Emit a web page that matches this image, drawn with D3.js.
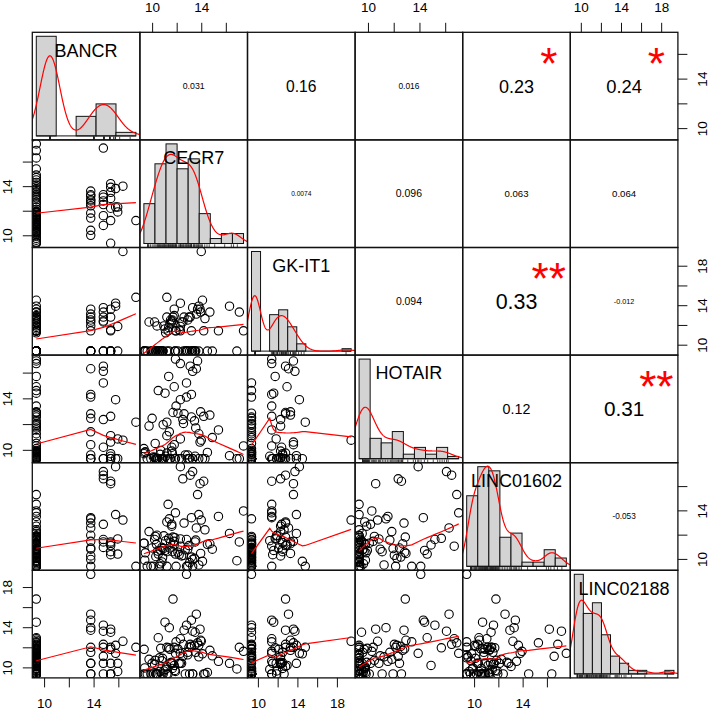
<!DOCTYPE html>
<html><head><meta charset="utf-8">
<script src="https://cdn.jsdelivr.net/npm/d3@7"></script>
<style>body{margin:0;background:#fff}svg{display:block}</style>
</head><body><svg id="c" width="710" height="710"></svg>
<script>
// ---------------- DATA ----------------
const varNames = ["BANCR", "CECR7", "GK-IT1", "HOTAIR", "LINC01602", "LINC02188"];

const BANCR = [
9.37,9.37,9.37,9.37,9.37,9.37,9.37,9.37,9.37,9.37,
9.37,9.37,9.37,9.37,9.37,9.37,9.37,9.37,9.37,9.37,
9.37,9.37,9.37,9.37,9.37,9.37,9.37,9.37,9.37,9.37,
9.37,9.37,9.37,9.37,9.37,9.37,9.37,9.37,9.37,9.37,
9.37,9.37,9.37,9.37,9.37,9.37,9.37,9.37,9.37,9.37,
9.37,9.37,9.37,9.37,9.37,9.37,
13.77,13.77,13.77,13.77,13.77,13.77,13.77,13.77,13.77,13.77,13.77,
14.79,14.79,14.79,14.79,14.79,14.79,14.79,
15.38,15.38,15.38,15.38,15.38,15.38,15.38,
15.78,15.78,15.95,15.95,16.37,17.42];

const CECR7 = [
11.3,13.45,10.2,9.6,12.3,14.5,10.85,11.7,13.8,10.45,
16.3,11.05,12.9,9.33,11.5,13.2,10.65,14.1,11.9,10.3,
13.55,11.2,9.9,12.55,10.95,17.44,11.6,13.05,10.5,14.7,
11.85,10.1,15.4,11.45,9.45,13.7,10.8,12.1,11.1,14.3,
10.25,11.95,13.3,10.7,9.75,16.9,11.35,12.7,10.6,13.95,
11.65,10.35,14.9,11.8,9.4,10.9,
13.6,13.2,12.8,12.6,12.4,11.4,10.4,10.0,12.9,11.8,13.3,
13.3,13.1,12.8,12.5,17.1,11.6,10.8,
14.2,13.9,13.5,13.0,12.2,11.2,9.35,
12.3,13.8,12.3,11.9,14.0,11.2];

const GK_IT1 = [
11.4,9.35,12.3,9.35,11.4,9.35,9.35,12.8,9.35,9.35,
13.9,11.6,9.35,9.35,12.5,9.35,9.35,14.5,11.4,9.35,
9.35,12.8,9.35,9.35,11.9,11.4,12.3,9.35,9.35,13.3,
9.35,9.35,11.4,12.1,9.35,13.6,9.35,9.35,11.2,12.65,
9.35,11.4,9.35,9.35,12.3,9.35,11.75,9.35,9.35,13.3,
12.5,9.35,9.35,12.95,9.35,9.35,
13.1,11.4,9.35,12.8,12.3,9.35,11.9,9.35,12.5,13.6,9.35,
13.75,12.8,9.35,12.3,13.3,12.4,9.35,
11.4,13.6,9.35,12.8,11.5,9.35,9.35,
14.2,13.9,11.85,9.35,19.44,14.8];

const HOTAIR = [
9.31,12.25,9.4,9.31,16.7,9.8,9.31,12.9,11.25,9.31,
9.55,14.4,9.31,10.1,9.31,12.55,9.65,9.31,17.05,9.31,
11.7,9.75,9.31,12.05,9.31,10.3,9.9,9.31,14.6,12.7,
9.31,9.45,11.55,9.31,9.85,16.9,9.31,12.85,9.5,9.31,
10.5,13.4,9.31,9.95,11.85,9.31,15.7,9.6,9.31,12.95,
9.7,9.31,10.95,14.9,9.8,11.95,
16.3,14.3,14.1,12.8,9.31,11.4,9.31,12.45,9.6,10.4,9.31,
16.1,16.5,15.2,12.35,9.31,10.2,9.31,
12.6,10.6,9.5,9.31,9.31,11.1,9.7,
13.9,9.31,10.85,9.31,10.75,12.15];

const LINC01602 = [
14.5,10.05,11.6,9.39,11.05,11.2,10.1,11.8,9.5,10.65,
12.1,10.7,9.39,11.3,11.35,10.15,9.6,9.8,13.8,10.2,
11.55,13.05,9.39,10.3,11.9,13.95,12.7,9.7,10.4,11.25,
11.75,9.39,13.5,10.9,10.5,15.3,9.75,10.55,11.5,12.4,
11.85,9.39,9.39,10.7,12.25,9.85,11.7,10.75,9.39,10.45,
10.6,11.2,10.8,11.15,9.9,10.85,
12.55,13.4,9.39,12.95,10.25,13.3,11.95,10.9,10.8,11.45,9.95,
17.2,16.9,11.6,16.6,11.4,12.85,10.95,
16.4,16.2,11.4,11.1,10.35,10.6,11.3,
17.6,13.65,11.65,10.4,13.2,9.39];

const LINC02188 = [
9.35,12.2,10.3,9.35,12.85,9.5,10.9,16.8,11.05,9.35,
10.4,14.5,11.25,9.35,10.45,12.1,9.6,11.35,11.4,9.35,
11.5,10.1,9.35,12.3,9.65,11.6,10.5,9.35,12.95,11.7,
9.7,9.35,10.6,11.8,9.35,12.45,10.65,11.85,9.8,9.35,
10.7,12.55,9.35,11.9,10.8,9.85,11.95,9.35,10.95,12.7,
9.9,9.35,11.15,10.2,9.95,9.35,
15.3,14.7,19.27,13.7,10.4,13.95,9.35,10.4,11.5,12.0,9.35,
13.6,12.3,14.2,11.1,12.0,10.4,9.35,
9.35,13.8,13.5,12.0,10.4,9.35,11.8,
11.4,12.2,10.4,9.6,12.6,12.0];

// histogram breaks (as drawn)
const breaksBANCR = [8, 10, 12, 14, 16, 18];
const breaksCECR7 = [9, 10, 11, 12, 13, 14, 15, 16, 17, 18];
const breaksGK = [9, 10, 11, 12, 13, 14, 15, 16, 17, 18, 19, 20];
const breaksHOTAIR = [9, 10, 11, 12, 13, 14, 15, 16, 17, 18];
const breaksL1602 = [9, 10, 11, 12, 13, 14, 15, 16, 17, 18];
const breaksL2188 = [9, 10, 11, 12, 13, 14, 15, 16, 17, 18, 19, 20];

// axis ticks and which of them carry a label
const ticksShort = [10, 12, 14, 16];
const ticksLong = [10, 12, 14, 16, 18];
const labelsShort = [10, 14];
const labelsLong = [10, 14, 18];

// correlation panels (upper triangle)
const corrRow = [0, 0, 0, 0, 0, 1, 1, 1, 1, 2, 2, 2, 3, 3, 4];
const corrCol = [1, 2, 3, 4, 5, 2, 3, 4, 5, 3, 4, 5, 4, 5, 5];
const corrText = ["0.031", "0.16", "0.016", "0.23", "0.24", "0.0074", "0.096", "0.063", "0.064", "0.094", "0.33", "-0.012", "0.12", "0.31", "-0.053"];
const corrStars = ["", "", "", "*", "*", "", "", "", "", "", "**", "", "", "**", ""];

// ---------------- SETUP ----------------
const data = [BANCR, CECR7, GK_IT1, HOTAIR, LINC01602, LINC02188];
const breaks = [breaksBANCR, breaksCECR7, breaksGK, breaksHOTAIR, breaksL1602, breaksL2188];
const ticks = [ticksShort, ticksShort, ticksLong, ticksShort, ticksShort, ticksLong];
const tickLabels = [labelsShort, labelsShort, labelsLong, labelsShort, labelsShort, labelsLong];

const FONT = "'Liberation Sans', Arial, Helvetica, sans-serif";
const L = 32.3, T = 32.3, P = 107.6, NV = 6;
const svg = d3.select("#c");
const ext = ([a, b]) => { const d = (b - a) * 0.04; return [a - d, b + d]; };

const xS = data.map((v, j) => d3.scaleLinear().domain(ext(d3.extent(v))).range([L + j * P, L + (j + 1) * P]));
const yS = data.map((v, i) => d3.scaleLinear().domain(ext(d3.extent(v))).range([T + (i + 1) * P, T + i * P]));

const defs = svg.append("defs");
for (let i = 0; i < NV; i++) for (let j = 0; j < NV; j++) {
  defs.append("clipPath").attr("id", `cp${i}_${j}`).append("rect")
    .attr("x", L + j * P).attr("y", T + i * P).attr("width", P).attr("height", P);
}

// ---------- lowess (R clowess) ----------
function lowess(xIn, yIn, f = 2 / 3, nsteps = 3) {
  const n = xIn.length;
  const order = d3.range(n).sort((a, b) => xIn[a] - xIn[b] || a - b);
  const x = order.map(i => xIn[i]), y = order.map(i => yIn[i]);
  const ys = new Array(n).fill(0), rw = new Array(n).fill(1), res = new Array(n).fill(0), w = new Array(n).fill(0);
  const delta = 0.01 * (x[n - 1] - x[0]);
  const ns = Math.max(2, Math.min(n, Math.floor(f * n + 1e-7)));
  const range = x[n - 1] - x[0];
  function lowest(xs, nleft, nright, userw) {
    const h = Math.max(xs - x[nleft], x[nright] - xs);
    const h9 = 0.999 * h, h1 = 0.001 * h;
    let a = 0, j = nleft;
    while (j < n) {
      w[j] = 0;
      const r = Math.abs(x[j] - xs);
      if (r <= h9) {
        w[j] = r <= h1 ? 1 : Math.pow(1 - Math.pow(r / h, 3), 3);
        if (userw) w[j] *= rw[j];
        a += w[j];
      } else if (x[j] > xs) break;
      j++;
    }
    const nrt = j - 1;
    if (a <= 0) return null;
    for (j = nleft; j <= nrt; j++) w[j] /= a;
    if (h > 0) {
      a = 0;
      for (j = nleft; j <= nrt; j++) a += w[j] * x[j];
      let b = xs - a, c = 0;
      for (j = nleft; j <= nrt; j++) c += w[j] * (x[j] - a) * (x[j] - a);
      if (Math.sqrt(c) > 0.001 * range) {
        b /= c;
        for (j = nleft; j <= nrt; j++) w[j] *= (b * (x[j] - a) + 1);
      }
    }
    let s = 0;
    for (j = nleft; j <= nrt; j++) s += w[j] * y[j];
    return s;
  }
  let iter = 1;
  while (iter <= nsteps + 1) {
    let nleft = 0, nright = ns - 1, last = -1, i = 0;
    for (;;) {
      if (nright < n - 1) {
        const d1 = x[i] - x[nleft], d2 = x[nright + 1] - x[i];
        if (d1 > d2) { nleft++; nright++; continue; }
      }
      const v = lowest(x[i], nleft, nright, iter > 1);
      ys[i] = v === null ? y[i] : v;
      if (last < i - 1) {
        const denom = x[i] - x[last];
        for (let j = last + 1; j < i; j++) {
          const alpha = (x[j] - x[last]) / denom;
          ys[j] = alpha * ys[i] + (1 - alpha) * ys[last];
        }
      }
      last = i;
      const cut = x[last] + delta;
      for (i = last + 1; i < n; i++) {
        if (x[i] > cut) break;
        if (x[i] === x[last]) { ys[i] = ys[last]; last = i; }
      }
      i = Math.max(last + 1, i - 1);
      if (last >= n - 1) break;
    }
    for (let k = 0; k < n; k++) res[k] = y[k] - ys[k];
    let sc = 0; for (let k = 0; k < n; k++) sc += Math.abs(res[k]); sc /= n;
    if (iter > nsteps) break;
    for (let k = 0; k < n; k++) rw[k] = Math.abs(res[k]);
    const srt = rw.slice().sort((a, b) => a - b);
    const m1 = Math.floor(n / 2);
    const cmad = n % 2 === 0 ? 3 * (srt[m1] + srt[m1 - 1]) : 6 * srt[m1];
    if (cmad < 1e-7 * sc) break;
    const c9 = 0.999 * cmad, c1 = 0.001 * cmad;
    for (let k = 0; k < n; k++) {
      const r = Math.abs(res[k]);
      rw[k] = r <= c1 ? 1 : (r <= c9 ? Math.pow(1 - (r / cmad) * (r / cmad), 2) : 0);
    }
    iter++;
  }
  return x.map((v, k) => [v, ys[k]]);
}

// ---------- density (bw.nrd0, gaussian) ----------
function kde(v) {
  const n = v.length, s = d3.deviation(v), srt = v.slice().sort(d3.ascending);
  const iqr = d3.quantileSorted(srt, 0.75) - d3.quantileSorted(srt, 0.25);
  let lo = Math.min(s, iqr / 1.34); if (!(lo > 0)) lo = s || 1;
  const bw = 0.9 * lo * Math.pow(n, -0.2);
  const a = srt[0] - 3 * bw, b = srt[n - 1] + 3 * bw;
  const pts = [];
  for (let k = 0; k < 512; k++) {
    const x = a + (b - a) * k / 511;
    let sum = 0;
    for (const xi of v) { const z = (x - xi) / bw; sum += Math.exp(-0.5 * z * z); }
    pts.push([x, sum / (n * bw * Math.sqrt(2 * Math.PI))]);
  }
  return pts;
}

// ---------------- PANELS ----------------
const tmp = svg.append("text").attr("font-family", FONT).attr("font-size", 100).attr("x", -1000).attr("y", -1000);
const emWidth = s => { tmp.text(s); return tmp.node().getComputedTextLength() / 100; };

for (let i = 0; i < NV; i++) {
  for (let j = 0; j < NV; j++) {
    const g = svg.append("g");
    const x0 = L + j * P, y0 = T + i * P;
    if (i === j) {
      const v = data[i], br = breaks[i], n = v.length, bwid = br[1] - br[0];
      const counts = br.slice(1).map(() => 0);
      v.forEach(val => {
        for (let k = 0; k < counts.length; k++) {
          if ((val > br[k] || (k === 0 && val >= br[0])) && val <= br[k + 1]) { counts[k]++; break; }
        }
      });
      const dens = counts.map(c => c / (n * bwid));
      const hx = d3.scaleLinear().domain(ext([br[0], br[br.length - 1]])).range([x0, x0 + P]);
      const hy = d3.scaleLinear().domain(ext([0, d3.max(dens)])).range([y0 + P, y0]);
      const cg = g.append("g").attr("clip-path", `url(#cp${i}_${j})`);
      cg.selectAll("rect.bar").data(dens).join("rect")
        .attr("x", (d, k) => hx(br[k])).attr("width", (d, k) => hx(br[k + 1]) - hx(br[k]))
        .attr("y", d => hy(d)).attr("height", d => hy(0) - hy(d))
        .attr("fill", "#D3D3D3").attr("stroke", "#111").attr("stroke-width", 1);
      cg.append("line").attr("x1", hx(br[0])).attr("x2", hx(br[br.length - 1]))
        .attr("y1", hy(0)).attr("y2", hy(0)).attr("stroke", "#111").attr("stroke-width", 1);
      cg.append("path").datum(kde(v))
        .attr("d", d3.line().x(d => hx(d[0])).y(d => hy(d[1])))
        .attr("fill", "none").attr("stroke", "#FF0000").attr("stroke-width", 1.2);
      cg.selectAll("line.rug").data(v).join("line")
        .attr("x1", d => hx(d)).attr("x2", d => hx(d))
        .attr("y1", y0 + P).attr("y2", y0 + P - 0.03 * P)
        .attr("stroke", "#222").attr("stroke-width", 0.8);
      const fs = 18;
      g.append("text").attr("x", x0 + P / 2).attr("y", y0 + (1 - 0.8333) * P + 0.358 * fs)
        .attr("text-anchor", "middle").attr("font-family", FONT).attr("font-size", fs)
        .attr("fill", "#000").text(varNames[i]);
    } else if (i > j) {
      const xv = data[j], yv = data[i];
      const cg = g.append("g").attr("clip-path", `url(#cp${i}_${j})`);
      cg.selectAll("circle").data(xv.map((d, k) => [d, yv[k]])).join("circle")
        .attr("cx", d => xS[j](d[0])).attr("cy", d => yS[i](d[1])).attr("r", 4.2)
        .attr("fill", "none").attr("stroke", "#000").attr("stroke-width", 1.1);
      cg.append("path").datum(lowess(xv, yv))
        .attr("d", d3.line().x(d => xS[j](d[0])).y(d => yS[i](d[1])))
        .attr("fill", "none").attr("stroke", "#FF0000").attr("stroke-width", 1.2);
    }
  }
}

// correlation text panels
corrText.forEach((txt, k) => {
  const i = corrRow[k], j = corrCol[k];
  const r = Math.abs(parseFloat(txt));
  const cex = 0.8 * P / emWidth(txt);
  const fs = cex * (r + 0.3) / 1.3;
  const cx = L + (j + 0.5) * P, cy = T + (i + 0.5) * P;
  svg.append("text").attr("x", cx).attr("y", cy + 0.358 * fs)
    .attr("text-anchor", "middle").attr("font-family", FONT).attr("font-size", fs)
    .attr("fill", "#000").text(txt);
  if (corrStars[k]) {
    svg.append("text").attr("x", L + (j + 0.8) * P).attr("y", T + (i + 0.2) * P + 0.575 * cex)
      .attr("text-anchor", "middle").attr("font-family", FONT).attr("font-size", cex)
      .attr("fill", "#FF0000").text(corrStars[k]);
  }
});
tmp.remove();

// panel boxes
for (let i = 0; i < NV; i++) for (let j = 0; j < NV; j++) {
  svg.append("rect").attr("x", L + j * P).attr("y", T + i * P).attr("width", P).attr("height", P)
    .attr("fill", "none").attr("stroke", "#111").attr("stroke-width", 1.3);
}

// ---------------- AXES ----------------
const TICK = 9.5, AFS = 13.5;
function styleAxis(ax) {
  ax.select(".domain").remove();
  ax.selectAll(".tick line").attr("stroke", "#111").attr("stroke-width", 1);
  ax.selectAll(".tick text").attr("font-family", FONT).attr("font-size", AFS).attr("fill", "#000");
}
const fmt = labs => d => labs.includes(d) ? String(d) : "";
for (let j = 0; j < NV; j++) {
  if (j % 2 === 1) {
    const ax = svg.append("g").attr("transform", `translate(0,${T})`)
      .call(d3.axisTop(xS[j]).tickValues(ticks[j]).tickFormat(fmt(tickLabels[j])).tickSize(TICK).tickPadding(11.1));
    styleAxis(ax);
  } else {
    const ax = svg.append("g").attr("transform", `translate(0,${T + NV * P})`)
      .call(d3.axisBottom(xS[j]).tickValues(ticks[j]).tickFormat(fmt(tickLabels[j])).tickSize(TICK).tickPadding(11.3));
    styleAxis(ax);
  }
}
for (let i = 0; i < NV; i++) {
  const left = i % 2 === 1;
  const xpos = left ? L : L + NV * P;
  const axis = (left ? d3.axisLeft(yS[i]) : d3.axisRight(yS[i]))
    .tickValues(ticks[i]).tickFormat(fmt(tickLabels[i])).tickSize(TICK);
  const ax = svg.append("g").attr("transform", `translate(${xpos},0)`).call(axis);
  styleAxis(ax);
  const off = left ? -25.1 : 24.6;
  ax.selectAll(".tick text")
    .attr("x", 0).attr("dy", null).attr("y", 0.358 * AFS)
    .attr("text-anchor", "middle")
    .attr("transform", `translate(${off},0) rotate(-90)`);
}
</script></body></html>
